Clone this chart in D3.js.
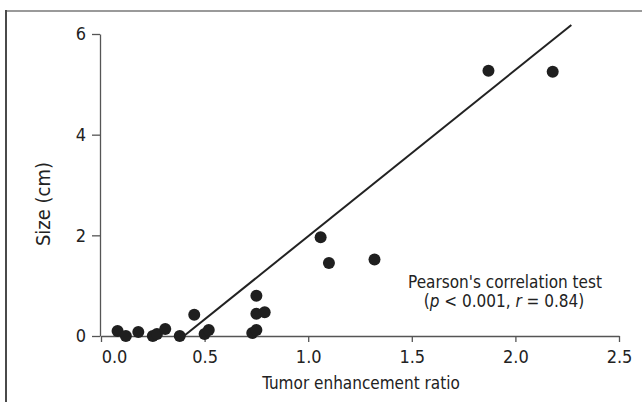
<!DOCTYPE html>
<html>
<head>
<meta charset="utf-8">
<script src="https://cdn.jsdelivr.net/npm/d3@7"></script>
<style>
  body { margin: 0; background: #fff; }
  svg text { font-family: "DejaVu Sans Condensed", "DejaVu Sans", sans-serif; fill: #222; }
</style>
</head>
<body>
<div id="chart"></div>
<script>
// tumor enhancement ratio vs size (cm)
const ratio = [0.08, 0.12, 0.18, 0.25, 0.27, 0.31, 0.38, 0.45, 0.50, 0.52,
               0.73, 0.75, 0.75, 0.75, 0.79, 1.06, 1.10, 1.32, 1.87, 2.18]
const size  = [0.10, 0.00, 0.08, 0.00, 0.04, 0.14, 0.00, 0.42, 0.04, 0.12,
               0.06, 0.12, 0.80, 0.44, 0.47, 1.96, 1.45, 1.52, 5.27, 5.25]

// regression line end points
const fitX = [0.40, 2.27]
const fitY = [0.00, 6.18]

const xTicks = [0.0, 0.5, 1.0, 1.5, 2.0, 2.5]
const yTicks = [0, 2, 4, 6]

const width = 642
const height = 402

const svg = d3.select("#chart").append("svg")
    .attr("width", width)
    .attr("height", height)

// frame (top + left edges)
svg.append("line")
    .attr("x1", 6).attr("x2", width).attr("y1", 11).attr("y2", 11)
    .attr("stroke", "#9a9a9a").attr("stroke-width", 2)
svg.append("line")
    .attr("x1", 6).attr("x2", 6).attr("y1", 10).attr("y2", height)
    .attr("stroke", "#4a4a4a").attr("stroke-width", 2)

const x = d3.scaleLinear().domain([0, 2.5]).range([101, 619])
const y = d3.scaleLinear().domain([0, 6]).range([336, 34])

const xAxis = svg.append("g")
    .attr("transform", `translate(0,${y(0)})`)
    .call(d3.axisBottom(x).tickValues(xTicks).tickFormat(d3.format(".1f"))
        .tickSize(6).tickSizeOuter(0).tickPadding(8))
xAxis.selectAll("text").attr("font-size", 18)
// first label sits a bit right of its tick in the original
xAxis.selectAll(".tick text").filter((d, i) => i === 0).attr("dx", 13)

const yAxis = svg.append("g")
    .attr("transform", `translate(${x(0) - 1},0)`)
    .call(d3.axisLeft(y).tickValues(yTicks).tickFormat(d3.format("d"))
        .tickSize(8).tickSizeOuter(0).tickPadding(6))
yAxis.selectAll("text").attr("font-size", 18)

svg.selectAll(".domain, .tick line").attr("stroke", "#555").attr("stroke-width", 1.3)

// fit line
svg.append("line")
    .attr("x1", x(fitX[0])).attr("y1", y(fitY[0]))
    .attr("x2", x(fitX[1])).attr("y2", y(fitY[1]))
    .attr("stroke", "#222").attr("stroke-width", 2)

// dots
svg.append("g").selectAll("circle")
    .data(ratio.map((r, i) => ({ r: r, s: size[i] })))
    .join("circle")
        .attr("cx", d => x(d.r))
        .attr("cy", d => y(d.s))
        .attr("r", 6)
        .attr("fill", "#1f1f1f")

// axis titles
svg.append("text")
    .attr("x", 361).attr("y", 389)
    .attr("text-anchor", "middle")
    .attr("font-size", 17)
    .text("Tumor enhancement ratio")

svg.append("text")
    .attr("transform", "translate(50,204) rotate(-90)")
    .attr("text-anchor", "middle")
    .attr("font-size", 20)
    .text("Size (cm)")

// annotation
svg.append("text")
    .attr("x", 505).attr("y", 288)
    .attr("text-anchor", "middle")
    .attr("font-size", 17)
    .text("Pearson's correlation test")

const note = svg.append("text")
    .attr("x", 504).attr("y", 307)
    .attr("text-anchor", "middle")
    .attr("font-size", 17)
note.append("tspan").text("(")
note.append("tspan").attr("font-style", "italic").text("p")
note.append("tspan").text(" < 0.001, ")
note.append("tspan").attr("font-style", "italic").text("r")
note.append("tspan").text(" = 0.84)")
</script>
</body>
</html>
